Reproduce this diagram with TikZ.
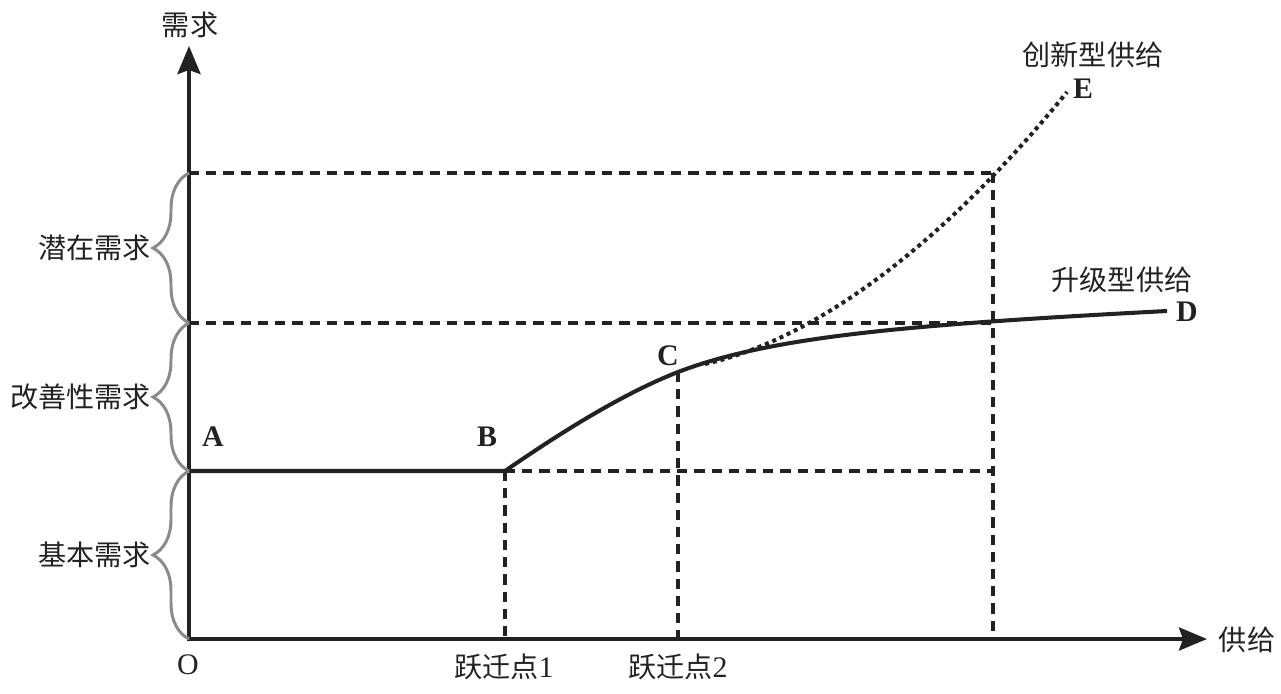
\documentclass[tikz,border=0pt]{standalone}
\usepackage{fontspec}
\setmainfont{Liberation Serif}
\newfontfamily\cjk{Noto Sans CJK SC}
\usetikzlibrary{arrows.meta,decorations.pathreplacing}
\definecolor{ink}{HTML}{222222}
\definecolor{brcgray}{HTML}{8A8A8A}
\begin{document}
\begin{tikzpicture}[x=0.02cm,y=-0.02cm,
 axis/.style={line width=2.2pt, draw=ink, line join=miter, {Stealth[length=0.56cm,width=0.46cm,inset=0.08cm]}-{Stealth[length=0.56cm,width=0.46cm,inset=0.08cm]}},
 guide/.style={line width=2.2pt, draw=ink, dash pattern=on 5.8pt off 4pt},
 curve/.style={line width=2.3pt, draw=ink},
 dotcurve/.style={line width=2.3pt, draw=ink, dash pattern=on 2.3pt off 2.2pt},
 brc/.style={draw=brcgray, line width=1.7pt, decorate, decoration={brace, amplitude=0.72cm}},
 lab/.style={font=\cjk\fontsize{16}{18}\selectfont, text=ink, inner sep=0pt},
 pt/.style={font=\bfseries\fontsize{17}{20}\selectfont, text=ink, inner sep=0pt},
 num/.style={font=\fontsize{17}{20}\selectfont, text=ink, inner sep=0pt},
]
\useasboundingbox (0,0) rectangle (1281,693);
% key points
\coordinate (O) at (189,639);
\coordinate (Ytop) at (189,46);
\coordinate (Xend) at (1207,639);
\coordinate (Y1) at (189,173);
\coordinate (Y2) at (189,323);
\coordinate (A0) at (189,471);
\coordinate (B) at (505,471);
\coordinate (C) at (678,372);
\coordinate (D) at (1167,311);
\coordinate (S) at (705,364);
\coordinate (E) at (1067,92);
\coordinate (P1) at (505,639);
\coordinate (P2) at (678,639);
\coordinate (P3) at (993,639);
\coordinate (Q1) at (993,173);
\coordinate (Q2) at (993,323);
\coordinate (Q3) at (993,471);
% guide lines
\draw[guide] (Y1) -- (Q1);
\draw[guide] (Y2) -- (Q2);
\draw[guide] (B) -- (Q3);
\draw[guide] (B) -- (P1);
\draw[guide] (C) -- (P2);
\draw[guide] (Q1) -- (P3);
% curves
\draw[curve] (A0) -- (B) .. controls (560,433) and (622,394) .. (C) .. controls (770,337) and (900,325) .. (D);
\draw[dotcurve] (S) .. controls (830,336) and (960,224) .. (E);
% axes
\draw[axis] (Ytop) -- (O) -- (Xend);
% braces
\draw[brc] (Y2) -- (Y1);
\draw[brc] (A0) -- (Y2);
\draw[brc] (O) -- (A0);
% labels
\node[lab] (ylab) at (190,25) {需求};
\node[lab] (xlab) at (1247,640) {供给};
\node[num] (olab) at (188,665) {O};
\node[lab, anchor=east] (b1) at (151,248) {潜在需求};
\node[lab, anchor=east] (b2) at (151,397) {改善性需求};
\node[lab, anchor=east] (b3) at (151,555) {基本需求};
\node[lab] (t1) at (504,667) {跃迁点\fontspec{Liberation Serif}\fontsize{17}{20}\selectfont 1};
\node[lab] (t2) at (678,667) {跃迁点\fontspec{Liberation Serif}\fontsize{17}{20}\selectfont 2};
\node[pt] (la) at (213,437) {A};
\node[pt] (lb) at (487,437) {B};
\node[pt] (lc) at (668,356) {C};
\node[pt] (ld) at (1187,312) {D};
\node[pt] (le) at (1083,89) {E};
\node[lab] (upg) at (1122,280) {升级型供给};
\node[lab] (inn) at (1093,55) {创新型供给};
\end{tikzpicture}
\end{document}
